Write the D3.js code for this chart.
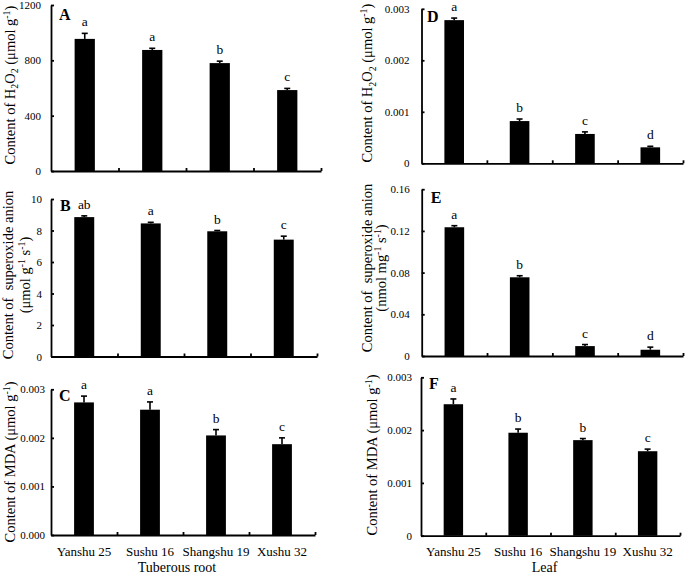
<!DOCTYPE html>
<html><head><meta charset="utf-8">
<script src="https://cdn.jsdelivr.net/npm/d3@7"></script>
<style>
html,body{margin:0;padding:0;background:#fff;}
svg{display:block;font-family:"Liberation Serif","Times New Roman",serif;}
</style></head><body>
<svg id="chart" width="685" height="576"></svg>
<script>
// ---------- data ----------
const categories = ["Yanshu 25", "Sushu 16", "Shangshu 19", "Xushu 32"];

const rootH2O2      = [955, 875, 780, 585];
const rootH2O2Err   = [40, 12, 14, 12];
const rootH2O2Sig   = ["a", "a", "b", "c"];
const rootH2O2Ticks = [0, 400, 800, 1200];
const rootH2O2TickLabels = ["0", "400", "800", "1200"];

const rootSuperoxide      = [8.85, 8.45, 7.95, 7.42];
const rootSuperoxideErr   = [0.08, 0.07, 0.05, 0.22];
const rootSuperoxideSig   = ["ab", "a", "b", "c"];
const rootSuperoxideTicks = [0, 2, 4, 6, 8, 10];
const rootSuperoxideTickLabels = ["0", "2", "4", "6", "8", "10"];

const rootMDA      = [0.00273, 0.00258, 0.00205, 0.00187];
const rootMDAErr   = [0.00013, 0.00016, 0.00012, 0.00013];
const rootMDASig   = ["a", "a", "b", "c"];
const rootMDATicks = [0, 0.001, 0.002, 0.003];
const rootMDATickLabels = ["0.000", "0.001", "0.002", "0.003"];

const leafH2O2      = [0.00278, 0.00082, 0.00057, 0.00031];
const leafH2O2Err   = [0.00004, 0.00004, 0.00004, 0.00002];
const leafH2O2Sig   = ["a", "b", "c", "d"];
const leafH2O2Ticks = [0, 0.001, 0.002, 0.003];
const leafH2O2TickLabels = ["0", "0.001", "0.002", "0.003"];

const leafSuperoxide      = [0.1235, 0.0755, 0.0095, 0.006];
const leafSuperoxideErr   = [0.0015, 0.0015, 0.0015, 0.0025];
const leafSuperoxideSig   = ["a", "b", "c", "d"];
const leafSuperoxideTicks = [0, 0.04, 0.08, 0.12, 0.16];
const leafSuperoxideTickLabels = ["0", "0.04", "0.08", "0.12", "0.16"];

const leafMDA      = [0.00249, 0.00195, 0.00181, 0.0016];
const leafMDAErr   = [0.0001, 0.00007, 0.00003, 0.00004];
const leafMDASig   = ["a", "b", "b", "c"];
const leafMDATicks = [0, 0.001, 0.002, 0.003];
const leafMDATickLabels = ["0", "0.001", "0.002", "0.003"];

const groupTitles = ["Tuberous root", "Leaf"];

// axis titles: [text, kind]
const titleH2O2 = [[["Content of H",""],["2","sub"],["O",""],["2","sub"],[" (\u03bcmol g",""],["-1","sup"],[")",""]]];
const titleSupRoot = [[["Content of  superoxide anion",""]],
                      [["(\u03bcmol g",""],["-1","sup"],[" s",""],["-1","sup"],[")",""]]];
const titleSupLeaf = [[["Content of  superoxide anion",""]],
                      [["(nmol mg",""],["-1","sup"],[" s",""],["-1","sup"],[")",""]]];
const titleMDA = [[["Content of MDA (\u03bcmol g",""],["-1","sup"],[")",""]]];

// ---------- layout ----------
const panels = [
  {tag:"A", v:rootH2O2, e:rootH2O2Err, sig:rootH2O2Sig, ticks:rootH2O2Ticks, tl:rootH2O2TickLabels,
   left:51, right:321, top:5, bottom:171, pad:10, title:titleH2O2, tx:[14.5], ty:85, lx:59, ly:20, cats:false},
  {tag:"B", v:rootSuperoxide, e:rootSuperoxideErr, sig:rootSuperoxideSig, ticks:rootSuperoxideTicks, tl:rootSuperoxideTickLabels,
   left:51, right:317, top:199, bottom:356.5, pad:9, title:titleSupRoot, tx:[13,29.5], ty:275, lx:60, ly:210.7, cats:false},
  {tag:"C", v:rootMDA, e:rootMDAErr, sig:rootMDASig, ticks:rootMDATicks, tl:rootMDATickLabels,
   left:51, right:315, top:389.3, bottom:535, pad:6, title:titleMDA, tx:[14.5], ty:462, lx:59, ly:400.7, cats:true, group:0},
  {tag:"D", v:leafH2O2, e:leafH2O2Err, sig:leafH2O2Sig, ticks:leafH2O2Ticks, tl:leafH2O2TickLabels,
   left:421.5, right:683, top:8.8, bottom:163.3, pad:12, title:titleH2O2, tx:[372], ty:83, lx:427, ly:21.7, cats:false},
  {tag:"E", v:leafSuperoxide, e:leafSuperoxideErr, sig:leafSuperoxideSig, ticks:leafSuperoxideTicks, tl:leafSuperoxideTickLabels,
   left:421.7, right:683, top:189.2, bottom:356, pad:12, title:titleSupLeaf, tx:[372,386], ty:268, lx:430.7, ly:203, cats:false},
  {tag:"F", v:leafMDA, e:leafMDAErr, sig:leafMDASig, ticks:leafMDATicks, tl:leafMDATickLabels,
   left:421, right:680, top:377.3, bottom:535.7, pad:9, title:titleMDA, tx:[376.5], ty:455, lx:429, ly:389, cats:true, group:1}
];

const svg = d3.select("#chart");
svg.append("rect").attr("width",685).attr("height",576).attr("fill","#fff");

const TITLE_SIZE = 14.5;

function addRich(sel, parts, size){
  parts.forEach(([t,kind], i) => {
    const prev = i>0 ? parts[i-1][1] : "";
    let dy = 0;
    if (prev === "sub") dy -= 3.5;
    if (prev === "sup") dy += 5;
    if (kind === "sub") dy += 3.5;
    if (kind === "sup") dy -= 5;
    const ts = sel.append("tspan").text(t).attr("dy", dy);
    if (kind) ts.attr("font-size", size*0.68);
  });
}

panels.forEach(p => {
  const g = svg.append("g");
  const y = d3.scaleLinear().domain([0, p.ticks[p.ticks.length-1]]).range([p.bottom, p.top]);
  const x = d3.scaleBand().domain(categories).range([p.left, p.right]).paddingInner(0.7).paddingOuter(0.35);
  const xb = d3.scaleLinear().domain([0, categories.length]).range([p.left, p.right]);

  // bars
  g.selectAll("rect.bar").data(p.v).join("rect")
    .attr("x", (d,i) => x(categories[i]))
    .attr("y", d => y(d))
    .attr("width", x.bandwidth())
    .attr("height", d => p.bottom - y(d))
    .attr("fill", "#000");

  // error bars + significance letters
  p.v.forEach((d,i) => {
    const cx = x(categories[i]) + x.bandwidth()/2;
    const yt = y(d + p.e[i]);
    g.append("line").attr("x1",cx).attr("x2",cx).attr("y1",y(d)).attr("y2",yt)
      .attr("stroke","#000").attr("stroke-width",1.6);
    g.append("line").attr("x1",cx-3).attr("x2",cx+3).attr("y1",yt).attr("y2",yt)
      .attr("stroke","#000").attr("stroke-width",1.6);
    g.append("text").attr("x",cx).attr("y",yt-7).attr("text-anchor","middle")
      .attr("font-size",13.5).text(p.sig[i]);
  });

  // y axis
  const ya = g.append("g").attr("transform",`translate(${p.left},0)`)
    .call(d3.axisLeft(y).tickValues(p.ticks).tickFormat((d,i)=>p.tl[i])
      .tickSizeInner(-3).tickSizeOuter(0).tickPadding(p.pad));
  ya.selectAll("path,line").attr("stroke","#000").attr("stroke-width",1.8);
  ya.selectAll("text").attr("font-family","Liberation Serif").attr("font-size",11).attr("fill","#000");

  // x axis (category separators)
  const xa = g.append("g").attr("transform",`translate(0,${p.bottom})`)
    .call(d3.axisBottom(xb).tickValues(d3.range(1, categories.length+1)).tickFormat("")
      .tickSizeInner(-3).tickSizeOuter(0));
  xa.selectAll("path,line").attr("stroke","#000").attr("stroke-width",1.8);

  if (p.cats) {
    const ca = g.append("g").attr("transform",`translate(0,${p.bottom})`)
      .call(d3.axisBottom(x).tickSize(0).tickPadding(11.5));
    ca.select(".domain").remove();
    ca.selectAll("text").attr("font-family","Liberation Serif").attr("font-size",13).attr("fill","#000");
    g.append("text").attr("x",(p.left+p.right)/2-6).attr("y",572)
      .attr("text-anchor","middle").attr("font-size",14).text(groupTitles[p.group]);
  }

  // panel letter
  g.append("text").attr("x",p.lx).attr("y",p.ly).attr("font-weight","bold")
    .attr("font-size",16).text(p.tag);

  // y title
  p.title.forEach((parts, li) => {
    const t = g.append("text")
      .attr("transform",`translate(${p.tx[li]},${p.ty}) rotate(-90)`)
      .attr("text-anchor","middle").attr("font-size",TITLE_SIZE)
      .style("white-space","pre");
    addRich(t, parts, TITLE_SIZE);
  });
});
</script>
</body></html>
